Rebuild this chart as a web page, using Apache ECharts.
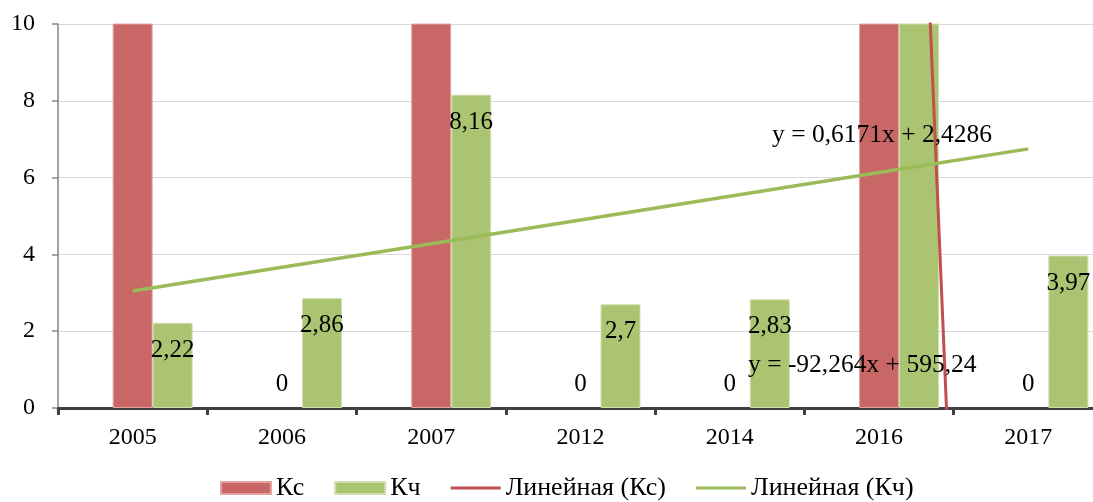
<!DOCTYPE html>
<html>
<head>
<meta charset="utf-8">
<script src="https://cdn.jsdelivr.net/npm/echarts@6/dist/echarts.min.js"></script>
<style>
html,body{margin:0;padding:0;background:#fff;}
#chart{width:1093px;height:502px;}
</style>
</head>
<body>
<div id="chart"></div>
<script>
const categories = ['2005', '2006', '2007', '2012', '2014', '2016', '2017'];
// Кс: values for 2005, 2007, 2016 run off the top of the axis (estimated)
const kcValues = [545.05, 0, 1008.24, 0, 0, 30, 0];
const kchValues = [2.22, 2.86, 8.16, 2.7, 2.83, 11.54, 3.97];
const seriesNames = ['Кс', 'Кч', 'Линейная (Кс)', 'Линейная (Кч)'];
const equationKc = 'y = -92,264x + 595,24';
const equationKch = 'y = 0,6171x + 2,4286';
const yMin = 0, yMax = 10, yStep = 2;

const FONT = '"Liberation Serif", "Times New Roman", serif';
const FS_AXIS = 24, FS_LABEL = 25, FS_EQ = 25.5, FS_LEGEND = 26;

function linearTrend(arr) {
  const n = arr.length;
  let sx = 0, sy = 0, sxy = 0, sxx = 0;
  arr.forEach((y, i) => { const x = i + 1; sx += x; sy += y; sxy += x * y; sxx += x * x; });
  const slope = (n * sxy - sx * sy) / (n * sxx - sx * sx);
  const intercept = (sy - slope * sx) / n;
  return arr.map((_, i) => intercept + slope * (i + 1));
}
const fmt = v => String(v).replace('.', ',');

const kcData = kcValues.map(v => v === 0
  ? { value: v, itemStyle: { borderWidth: 0 }, label: { show: true, position: 'top', distance: 11 } }
  : v);
const kchData = kchValues.map(v => v > yMax
  ? { value: v, label: { show: false } }
  : v);

const lineIcon = 'path://M0,0M50,12M0,4.5L50,4.5L50,7.5L0,7.5Z';

const chart = echarts.init(document.getElementById('chart'), null, { renderer: 'canvas' });
chart.setOption({
  animation: false,
  backgroundColor: '#ffffff',
  textStyle: { fontFamily: FONT },
  grid: { left: 58, top: 24, bottom: 94, width: 1045, containLabel: false, outerBoundsMode: 'none' },
  legend: {
    data: [
      { name: seriesNames[0], icon: 'rect' },
      { name: seriesNames[1], icon: 'rect' },
      { name: seriesNames[2], icon: lineIcon },
      { name: seriesNames[3], icon: lineIcon }
    ],
    left: 220, top: 475, padding: 0,
    itemWidth: 50, itemHeight: 12, itemGap: 30,
    textStyle: { fontFamily: FONT, fontSize: FS_LEGEND, color: '#000' }
  },
  xAxis: {
    type: 'category',
    data: categories,
    boundaryGap: true,
    axisLine: { lineStyle: { color: '#404040', width: 3 } },
    axisTick: { show: true, length: 7, lineStyle: { color: '#404040', width: 3 } },
    axisLabel: { color: '#000', fontFamily: FONT, fontSize: FS_AXIS, margin: 18 },
    splitLine: { show: false }
  },
  yAxis: {
    type: 'value',
    min: yMin, max: yMax, interval: yStep,
    axisLine: { show: true, lineStyle: { color: '#868686', width: 1.5 } },
    axisTick: { show: true, length: 6, lineStyle: { color: '#868686', width: 1.5 } },
    axisLabel: { color: '#000', fontFamily: FONT, fontSize: FS_AXIS, margin: 23 },
    splitLine: { show: true, lineStyle: { color: '#d9d9d9', width: 1 } }
  },
  series: [
    { type: 'bar', name: '_spacer', data: [], barWidth: 40, barGap: '0%', silent: true },
    {
      type: 'bar', name: seriesNames[0], data: kcData, barWidth: 40, barGap: '0%',
      itemStyle: { color: '#c86766', borderColor: '#e3a3a2', borderWidth: 1 },
      label: { show: false, color: '#000', fontFamily: FONT, fontSize: FS_LABEL, formatter: p => fmt(p.value) }
    },
    {
      type: 'bar', name: seriesNames[1], data: kchData, barWidth: 40, barGap: '0%',
      itemStyle: { color: '#aac472', borderColor: '#cfdfae', borderWidth: 1 },
      label: { show: true, position: 'insideTop', distance: 15, color: '#000', fontFamily: FONT, fontSize: FS_LABEL, formatter: p => fmt(p.value) }
    },
    {
      type: 'line', name: seriesNames[2], data: linearTrend(kcValues),
      symbol: 'none', clip: true, z: 5, silent: true,
      itemStyle: { color: '#c0504d' },
      lineStyle: { color: '#c0504d', width: 3 }
    },
    {
      type: 'line', name: seriesNames[3], data: linearTrend(kchValues),
      symbol: 'none', clip: true, z: 5, silent: true,
      itemStyle: { color: '#9bbb59' },
      lineStyle: { color: '#9bbb59', width: 3.5 }
    }
  ],
  graphic: [
    { type: 'text', left: 772, top: 122, z: 100, style: { text: equationKch, font: FS_EQ + 'px ' + FONT, fill: '#000' } },
    { type: 'text', left: 748, top: 352, z: 100, style: { text: equationKc, font: FS_EQ + 'px ' + FONT, fill: '#000' } }
  ]
});
</script>
</body>
</html>
